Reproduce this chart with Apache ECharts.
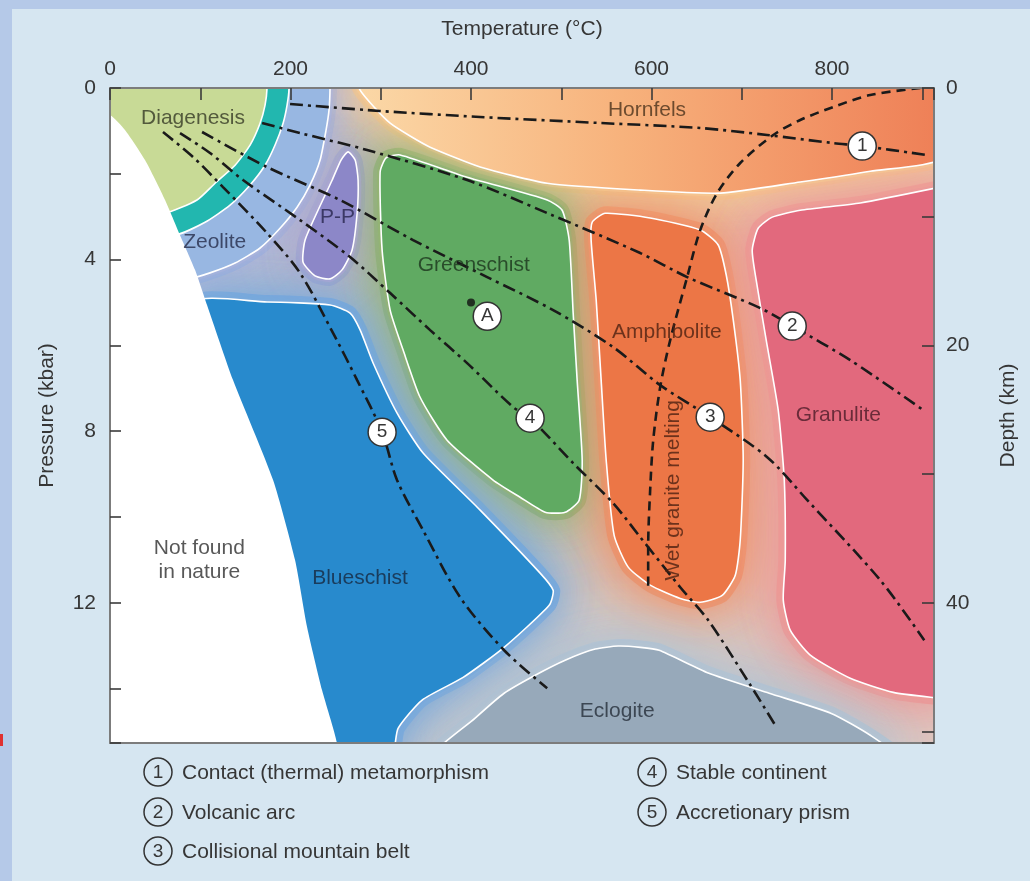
<!DOCTYPE html>
<html>
<head>
<meta charset="utf-8">
<script src="https://cdn.jsdelivr.net/npm/echarts@6/dist/echarts.min.js"></script>
<style>
  html, body { margin: 0; padding: 0; background: #d6e6f1; }
  #chart { width: 1030px; height: 881px; }
</style>
</head>
<body>
<div id="chart"></div>
<script>
// ---- axes ---------------------------------------------------------------
const tempMax = 913;          // °C at the right edge of the plot
const pressureMax = 15.27;    // kbar at the bottom edge of the plot
const kmPerKbar = 10 / 3;     // depth scale used on the right axis
const tempLabelStep = 200;
const pressureLabelStep = 4;
const depthLabelStep = 20;

// ---- facies outlines, [temperature °C, pressure kbar] ---------------------
const zeolite = [[-20,-1],[243.8,-1],[243.8,0],[242.7,0.51],[239.4,0.98],[232.8,1.68],[221.7,2.26],
  [207.3,2.78],[188.4,3.27],[166.3,3.73],[138.6,4.08],[110.8,4.31],[90,4.43],[-20,4.43]];
const zeoliteTeal = [[-20,-1],[198.4,-1],[198.4,0],[196.2,0.40],[191.8,0.82],[182.9,1.33],[171.8,1.80],
  [155.2,2.26],[133,2.73],[105.3,3.13],[72,3.43],[-20,3.43]];
const diagenesis = [[-20,-1],[174,-1],[174,0],[171.8,0.40],[166.3,0.82],[155.2,1.33],[138.6,1.80],
  [116.4,2.22],[96.4,2.61],[60,2.92],[-20,2.92]];
const hornfels = [[268.2,-0.5],[277.1,0.05],[293.7,0.47],[310.4,0.82],[332.5,1.12],[354.7,1.38],
  [410.1,1.84],[484.4,2.22],[587.5,2.38],[676.1,2.45],[764.8,2.19],[842.4,1.94],[925,1.60],[925,-0.5]];
const prehnitePumpellyite = [[263.8,1.49],[271.6,1.68],[274.9,2.15],[273.8,2.92],[268.2,3.78],[257.1,4.24],
  [243.8,4.45],[227.2,4.38],[213.9,4.06],[216.1,3.55],[230.5,2.85],[246.1,2.15],[256.0,1.68]];
const greenschist = [[299.3,1.96],[305.9,1.63],[321.4,1.56],[395.7,2.08],[484.4,2.61],[501.0,2.85],
  [508.8,3.55],[513.2,5.25],[517.6,6.81],[523.2,8.68],[519.8,9.61],[504.3,9.89],[482.2,9.89],
  [454.4,9.54],[424.5,9.14],[373.5,8.21],[343.6,7.21],[324.8,6.11],[310.4,5.18],[301.5,3.78]];
const amphibolite = [[534.2,3.13],[548.7,2.92],[598.5,3.03],[654.0,3.31],[673.9,3.66],[682.8,4.36],
  [690.6,5.41],[698.3,6.81],[701.6,8.68],[698.3,10.54],[692.8,11.36],[678.3,11.83],[654.0,11.99],
  [631.8,11.90],[598.5,11.59],[574.2,11.17],[558.6,10.43],[549.8,8.68],[544.2,6.81],[538.7,4.94],[533.1,3.55]];
const granulite = [[930,2.25],[920,2.31],[831.3,2.68],[764.8,2.85],[733.8,3.01],[718.2,3.27],[711.6,3.78],
  [716.0,4.48],[727.1,5.88],[740.4,7.51],[747.1,9.14],[748.2,11.01],[746.0,11.94],[753.7,12.64],
  [775.9,13.22],[820.2,13.76],[867.9,14.09],[920,14.23],[930,14.25]];
const blueschist = [[88.7,5.06],[174.0,4.99],[243.8,5.06],[266.0,5.25],[277.1,5.64],[291.5,6.41],
  [318.1,7.58],[346.9,8.51],[410.1,9.84],[476.6,11.31],[491.0,11.71],[486.6,12.06],[436.7,13.04],
  [391.3,13.74],[345.8,14.27],[319.2,14.93],[310.4,15.6],[88.7,15.6]];
const eclogite = [[358,15.6],[404.6,14.69],[436.7,14.11],[471.1,13.69],[504.3,13.34],[537.6,13.08],
  [563.1,13.01],[587.5,13.04],[608.5,13.11],[662.8,13.64],[730.4,14.11],[799.2,14.58],[842.4,15.09],[872,15.6]];
const notFoundInNature = [[-30,0.5],[0,0.63],[16.6,0.98],[38.8,1.68],[61,2.61],[77.6,3.43],[94.2,4.24],
  [107.5,5.06],[136.3,6.81],[180.7,9.14],[205.1,11.01],[218.4,12.57],[235,14.04],[251.6,15.28],[256,16.5],[-30,16.5]];

// ---- geothermal gradients, [temperature °C, pressure kbar] ---------------
const contactPath = [[199.5,0.373],[299,0.536],[410,0.676],[543,0.816],[654,0.933],[728,1.096],
  [801,1.283],[833.5,1.353],[905.6,1.563]];
const volcanicArcPath = [[168.5,0.816],[210.6,1.050],[284.9,1.446],[395.7,2.146],[484.4,2.915],
  [587.5,3.848],[639.5,4.408],[720.5,5.131],[755.9,5.551],[820.2,6.344],[901.1,7.510]];
const collisionalPath = [[102,1.026],[174,1.843],[254.9,2.612],[335.8,3.545],[417.9,4.408],[491.0,5.178],
  [557.5,6.041],[609.6,6.927],[665.0,7.673],[728.2,8.606],[772.6,9.609],[853.5,11.475],[902.2,12.875]];
const stableContinentPath = [[77.6,1.050],[110.8,1.516],[147.4,2.146],[210.6,3.079],[266.0,3.942],
  [310.4,4.781],[354.7,5.644],[395.7,6.414],[446.7,7.440],[465.5,7.697],[513.2,8.746],[557.5,9.679],
  [587.5,10.472],[631.8,11.638],[662.8,12.408],[708.3,13.878],[737.1,14.857]];
const accretionaryPath = [[58.7,1.026],[92.0,1.609],[125.2,2.309],[174.0,3.382],[210.6,4.315],[247.2,5.714],
  [273.8,6.810],[301.5,8.023],[318.1,9.143],[346.9,10.309],[387.9,11.872],[436.7,13.108],[484.4,13.994]];
const wetGraniteSolidus = [[897.8,0],[842.4,0.163],[801.4,0.443],[764.8,0.746],[734.9,1.096],[698.3,1.749],
  [672.8,2.449],[654.0,3.312],[639.5,4.408],[620.7,5.878],[609.6,6.974],[601.9,8.210],[598.5,9.376],
  [596.3,10.706],[596.3,11.662]];

// path markers (number, temperature, pressure) and sample point A
const pathMarkers = [['1',833.5,1.353],['2',755.9,5.551],['3',665.0,7.673],['4',465.5,7.697],['5',301.5,8.023]];
const samplePoint = [400, 5.0];
const sampleTag = ['A', 418, 5.32];

const legendNames = ['Contact (thermal) metamorphism','Volcanic arc','Collisional mountain belt',
  'Stable continent','Accretionary prism'];

// ---- drawing ------------------------------------------------------------
const FONT = '"Liberation Sans", Arial, sans-serif';
const ink = '#363636';

const hornfelsFill = new echarts.graphic.LinearGradient(0, 0, 1, 0, [
  { offset: 0, color: '#fbd9a8' },
  { offset: 0.45, color: '#f7b27c' },
  { offset: 1, color: '#ee7d55' }
]);

const facies = [
  { pts: zeolite, fill: '#98b7e2', halo: '#aab4dc' },
  { pts: zeoliteTeal, fill: '#22b7af', halo: null },
  { pts: diagenesis, fill: '#c8da96', halo: null },
  { pts: hornfels, fill: hornfelsFill, halo: '#f5c892' },
  { pts: prehnitePumpellyite, fill: '#8c87c8', halo: '#aaa6d2' },
  { pts: greenschist, fill: '#60aa62', halo: '#93b374' },
  { pts: amphibolite, fill: '#ec7646', halo: '#ee946c' },
  { pts: granulite, fill: '#e2697d', halo: '#ec9a98' },
  { pts: blueschist, fill: '#288acd', halo: '#78a9dc' },
  { pts: eclogite, fill: '#97a9ba', halo: '#b3c3d2' }
];

function polygonOf(api, pts) {
  return pts.map(p => api.coord(p));
}

const regionLabels = [
  ['Diagenesis', 92, 0.70, '#363a26', 0],
  ['Zeolite', 116, 3.59, '#252c4a', 0],
  ['P-P', 252, 3.01, '#27244c', 0],
  ['Hornfels', 595, 0.51, '#4a321c', 0],
  ['Greenschist', 403, 4.13, '#1b341d', 0],
  ['Amphibolite', 617, 5.69, '#4d2212', 0],
  ['Granulite', 807, 7.63, '#4c1b28', 0],
  ['Not found\nin nature', 99, 11.0, '#2e2e2e', 0],
  ['Blueschist', 277, 11.43, '#172840', 0],
  ['Eclogite', 562, 14.53, '#262e3a', 0],
  ['Wet granite melting', 624, 9.38, '#4d2212', 90]
];

function pathSeries(data, dash) {
  return {
    type: 'line', data: data, xAxisIndex: 0, yAxisIndex: 0,
    symbol: 'none', smooth: 0.3, silent: true, z: 5,
    lineStyle: { color: '#1a1a1a', width: 2.6, type: dash }
  };
}
const dashDot = [13, 5, 3, 5];

// haze layer: each field's own colour, blurred outwards
function hazeSeries(blur, width, z) {
  return {
    type: 'custom', xAxisIndex: 0, yAxisIndex: 0, clip: true, silent: true, z: z,
    data: facies.map((f, i) => [i, 0]),
    renderItem: (params, api) => {
      const f = facies[params.dataIndex];
      if (!f.halo) return null;
      return {
        type: 'polygon',
        shape: { points: polygonOf(api, f.pts), smooth: 0.2 },
        style: { fill: f.halo, stroke: f.halo, lineWidth: width, shadowBlur: blur, shadowColor: f.halo }
      };
    }
  };
}

// legend built from graphic elements
const legendGraphics = [];
const legendSlots = [[158, 772], [158, 812], [158, 851], [652, 772], [652, 812]];
legendNames.forEach((name, i) => {
  const [cx, cy] = legendSlots[i];
  legendGraphics.push({ type: 'circle', shape: { cx: cx, cy: cy, r: 14 }, silent: true,
    style: { fill: 'rgba(0,0,0,0)', stroke: '#333', lineWidth: 1.5 } });
  legendGraphics.push({ type: 'text', x: cx, y: cy + 1, silent: true,
    style: { text: String(i + 1), font: '19px ' + FONT, fill: ink,
      align: 'center', verticalAlign: 'middle', textAlign: 'center', textVerticalAlign: 'middle' } });
  legendGraphics.push({ type: 'text', x: cx + 24, y: cy + 1, silent: true,
    style: { text: name, font: '21px ' + FONT, fill: ink,
      align: 'left', verticalAlign: 'middle', textAlign: 'left', textVerticalAlign: 'middle' } });
});

const axisLineStyle = { show: true, onZero: false, lineStyle: { color: '#7c7c7c', width: 2 } };
const tickStyle = { color: '#3a3a3a', width: 1.6 };

const chart = echarts.init(document.getElementById('chart'), null, { renderer: 'canvas' });

chart.setOption({
  animation: false,
  backgroundColor: '#d6e6f1',
  textStyle: { fontFamily: FONT },
  grid: { left: 110, top: 88, right: 96, bottom: 138, show: true,
    backgroundColor: '#e0cfc6', borderWidth: 0 },
  graphic: [
    { type: 'rect', shape: { x: 0, y: 0, width: 12, height: 881 }, style: { fill: '#b5c9e8' }, silent: true },
    { type: 'rect', shape: { x: 0, y: 0, width: 1030, height: 9 }, style: { fill: '#b5c9e8' }, silent: true },
    { type: 'rect', shape: { x: 0, y: 734, width: 3, height: 12 }, style: { fill: '#e03030' }, silent: true }
  ].concat(legendGraphics),
  xAxis: [
    {
      type: 'value', position: 'top', min: 0, max: tempMax, interval: 100, z: 20,
      name: 'Temperature (°C)', nameLocation: 'middle', nameGap: 48,
      nameTextStyle: { fontSize: 21, color: ink, fontFamily: FONT },
      axisLine: axisLineStyle,
      axisTick: { show: true, inside: true, length: 12, lineStyle: tickStyle },
      axisLabel: { fontSize: 21, color: ink, fontFamily: FONT, margin: 8,
        formatter: v => (v % tempLabelStep === 0 && v <= 800) ? String(v) : '' },
      splitLine: { show: false }
    },
    {
      type: 'value', position: 'bottom', min: 0, max: tempMax, z: 20,
      axisLine: axisLineStyle,
      axisTick: { show: false }, axisLabel: { show: false }, splitLine: { show: false }
    }
  ],
  yAxis: [
    {
      type: 'value', position: 'left', inverse: true, min: 0, max: pressureMax, interval: 2, z: 20,
      name: 'Pressure (kbar)', nameLocation: 'middle', nameGap: 52, nameRotate: 90,
      nameTextStyle: { fontSize: 21, color: ink, fontFamily: FONT },
      axisLine: axisLineStyle,
      axisTick: { show: true, inside: true, length: 11, lineStyle: tickStyle },
      axisLabel: { fontSize: 21, color: ink, fontFamily: FONT, margin: 14,
        formatter: v => (v % pressureLabelStep === 0) ? String(v) : '' },
      splitLine: { show: false }
    },
    {
      type: 'value', position: 'right', inverse: true, min: 0, max: pressureMax * kmPerKbar, interval: 10, z: 20,
      name: 'Depth (km)', nameLocation: 'middle', nameGap: 64, nameRotate: 90,
      nameTextStyle: { fontSize: 21, color: ink, fontFamily: FONT },
      axisLine: axisLineStyle,
      axisTick: { show: true, inside: true, length: 12, lineStyle: tickStyle },
      axisLabel: { fontSize: 21, color: ink, fontFamily: FONT, margin: 12,
        formatter: v => (v % depthLabelStep === 0) ? String(v) : '' },
      splitLine: { show: false }
    }
  ],
  series: [
    hazeSeries(90, 14, 1),
    hazeSeries(40, 6, 1.5),
    // facies fields with white outlines
    {
      type: 'custom', xAxisIndex: 0, yAxisIndex: 0, clip: true, silent: true, z: 2,
      data: facies.map((f, i) => [i, 0]),
      renderItem: (params, api) => {
        const f = facies[params.dataIndex];
        return {
          type: 'polygon',
          shape: { points: polygonOf(api, f.pts), smooth: 0.2 },
          style: { fill: f.fill, stroke: '#ffffff', lineWidth: 1.6 }
        };
      }
    },
    // field not found in nature
    {
      type: 'custom', xAxisIndex: 0, yAxisIndex: 0, clip: true, silent: true, z: 3,
      data: [[0, 0]],
      renderItem: (params, api) => ({
        type: 'polygon',
        shape: { points: polygonOf(api, notFoundInNature), smooth: 0.2 },
        style: { fill: '#ffffff' }
      })
    },
    pathSeries(contactPath, dashDot),
    pathSeries(volcanicArcPath, dashDot),
    pathSeries(collisionalPath, dashDot),
    pathSeries(stableContinentPath, dashDot),
    pathSeries(accretionaryPath, dashDot),
    pathSeries(wetGraniteSolidus, [9, 6]),
    // sample point
    {
      type: 'scatter', xAxisIndex: 0, yAxisIndex: 0, silent: true, z: 6,
      data: [samplePoint], symbolSize: 8, itemStyle: { color: '#111' }
    },
    // numbered path markers and tag A
    {
      type: 'scatter', xAxisIndex: 0, yAxisIndex: 0, silent: true, z: 7,
      data: pathMarkers.concat([sampleTag]).map(m => ({ value: [m[1], m[2]], name: m[0] })),
      symbol: 'circle', symbolSize: 28,
      itemStyle: { color: '#ffffff', borderColor: '#333', borderWidth: 1.5, opacity: 1 },
      label: { show: true, position: 'inside', formatter: p => p.name,
        fontSize: 19, color: ink, fontFamily: FONT }
    },
    // field names
    {
      type: 'scatter', xAxisIndex: 0, yAxisIndex: 0, silent: true, z: 8,
      symbolSize: 0,
      data: regionLabels.map(l => ({
        value: [l[1], l[2]], name: l[0],
        label: { color: l[3], rotate: l[4] }
      })),
      label: { show: true, position: 'inside', formatter: p => p.name,
        fontSize: 21, fontFamily: FONT, lineHeight: 24, align: 'center', verticalAlign: 'middle' }
    }
  ]
});
</script>
</body>
</html>
